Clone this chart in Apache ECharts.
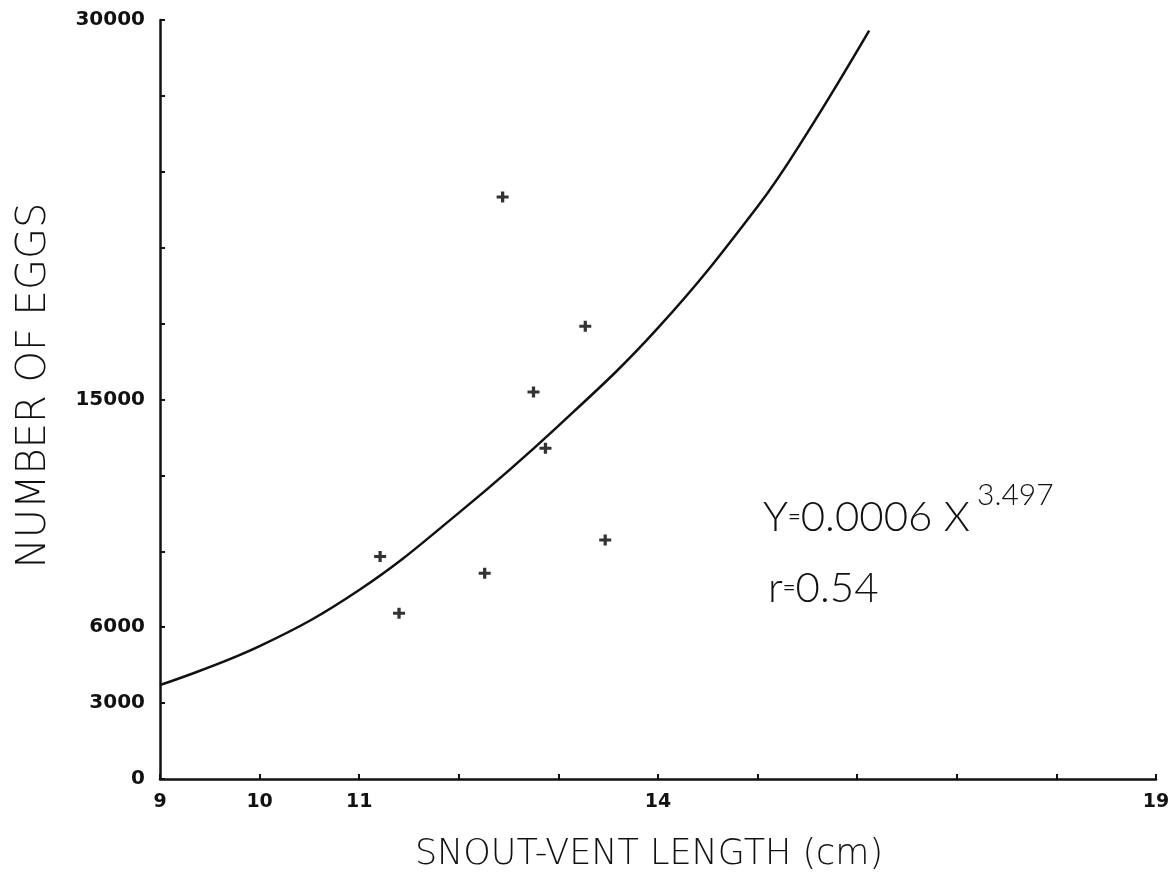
<!DOCTYPE html>
<html>
<head>
<meta charset="utf-8">
<script src="https://cdn.jsdelivr.net/npm/echarts@6/dist/echarts.min.js"></script>
<style>
html,body{margin:0;padding:0;background:#fff;}
#chart{width:1170px;height:873px;}
</style>
</head>
<body>
<div id="chart"></div>
<script>
// Tick labels shown on each axis
const xLabelledTicks = [9, 10, 11, 14, 19];
const yLabelledTicks = [0, 3000, 6000, 15000, 30000];

// Observed females: snout-vent length (cm) and number of eggs
const pointsX = [12.44, 13.27, 12.75, 12.87, 11.21, 11.40, 12.26, 13.47];
const pointsY = [23000, 17900, 15300, 13070, 8790, 6550, 8130, 9450];

// Fitted curve
const curveX = [9, 10, 11, 12, 13, 14, 15, 15.5, 16.12];
const curveY = [3715, 5250, 7470, 10520, 13960, 17830, 22630, 25550, 29580];

const equationText = 'Y{e|=}0.0006 X';
const exponentText = '3.497';
const rText = 'r{e|=}0.54';

const chart = echarts.init(document.getElementById('chart'));
const ink = '#111';
const plus = 'path://M4,0h3v4h4v3h-4v4h-3v-4h-4v-3h4z';

chart.setOption({
  backgroundColor: '#fff',
  animation: false,
  grid: { left: 160, right: 14, top: 20, bottom: 94, containLabel: false, outerBoundsMode: 'none' },
  xAxis: {
    type: 'value', min: 9, max: 19, interval: 1,
    name: 'SNOUT-VENT LENGTH (cm)', nameLocation: 'middle', nameGap: 58,
    nameTextStyle: { fontFamily: 'DejaVu Sans', fontSize: 35, fontWeight: 200, color: ink, padding: [0, 18, 0, 0] },
    axisLine: { show: true, lineStyle: { color: ink, width: 2.5 } },
    axisTick: { show: true, inside: true, length: 5, lineStyle: { color: ink, width: 2 } },
    splitLine: { show: false },
    axisLabel: {
      margin: 14, color: ink, fontFamily: 'DejaVu Sans', fontWeight: 'bold', fontSize: 19,
      formatter: v => xLabelledTicks.includes(v) ? String(v) : ''
    }
  },
  yAxis: {
    type: 'value', min: 0, max: 30000, interval: 3000,
    name: 'NUMBER OF EGGS', nameLocation: 'middle', nameGap: 105,
    nameTextStyle: { fontFamily: 'DejaVu Sans', fontSize: 40, fontWeight: 200, color: ink, padding: [0, 0, 0, 28] },
    axisLine: { show: true, lineStyle: { color: ink, width: 2.5 } },
    axisTick: { show: true, inside: true, length: 5, lineStyle: { color: ink, width: 2 } },
    splitLine: { show: false },
    axisLabel: {
      margin: 15, color: ink, fontFamily: 'DejaVu Sans', fontWeight: 'bold', fontSize: 20,
      formatter: v => yLabelledTicks.includes(v) ? String(v) : ''
    }
  },
  series: [
    {
      type: 'line', smooth: 0.4, showSymbol: false,
      data: curveX.map((x, i) => [x, curveY[i]]),
      lineStyle: { color: ink, width: 2.5 }
    },
    {
      type: 'scatter', symbol: plus, symbolSize: [12, 11],
      data: pointsX.map((x, i) => [x, pointsY[i]]),
      itemStyle: { color: '#000' }
    }
  ],
  graphic: [
    { type: 'text', x: 763, y: 517, style: { text: equationText, fill: ink, font: '300 42px Lato', verticalAlign: 'middle',
      rich: { e: { fontSize: 22, fontFamily: 'Lato', fill: ink } } } },
    { type: 'text', x: 977, y: 495, style: { text: exponentText, fill: ink, font: '300 30px Lato', verticalAlign: 'middle' } },
    { type: 'text', x: 768, y: 588, style: { text: rText, fill: ink, font: '300 42px Lato', verticalAlign: 'middle',
      rich: { e: { fontSize: 22, fontFamily: 'Lato', fill: ink } } } }
  ]
});
</script>
</body>
</html>
